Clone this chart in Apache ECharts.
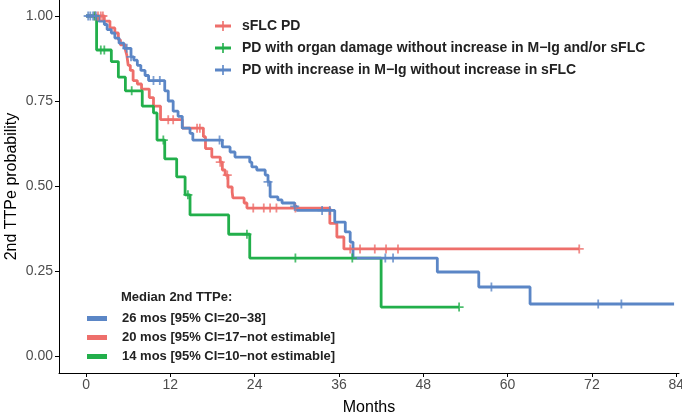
<!DOCTYPE html>
<html>
<head>
<meta charset="utf-8">
<script src="https://cdn.jsdelivr.net/npm/echarts@6/dist/echarts.min.js"></script>
<style>
  html, body { margin: 0; padding: 0; background: #fff; }
  #main { width: 682px; height: 415px; }
</style>
</head>
<body>
<div id="main"></div>
<script>
// tick labels
var monthTicks = [0, 12, 24, 36, 48, 60, 72, 84];
var probTicks = [0, 0.25, 0.5, 0.75, 1];

// legend / group names
var groupNames = [
  'sFLC PD',
  'PD with organ damage without increase in M\u2212Ig and/or sFLC',
  'PD with increase in M\u2212Ig without increase in sFLC'
];
var medianTitle = 'Median 2nd TTPe:';
var medianNames = [
  '26 mos [95% CI=20\u221238]',
  '20 mos [95% CI=17\u2212not estimable]',
  '14 mos [95% CI=10\u2212not estimable]'
];

// Kaplan-Meier steps [month, survival after event]
var sflcSteps = [
  [0, 1], [2.6, 0.985], [3.4, 0.965], [4.1, 0.95], [4.6, 0.93], [4.9, 0.915],
  [5.6, 0.9], [5.8, 0.885], [6.0, 0.855], [6.3, 0.84], [6.7, 0.81], [7.3, 0.8],
  [7.9, 0.785], [9.0, 0.76], [9.6, 0.735], [10.6, 0.695], [13.7, 0.67],
  [16.7, 0.645], [17.0, 0.61], [17.9, 0.585], [19.1, 0.57], [19.4, 0.547],
  [19.8, 0.532], [20.2, 0.497], [20.8, 0.482], [20.9, 0.465], [22.5, 0.45],
  [22.9, 0.435], [34.7, 0.39], [35.7, 0.35], [36.7, 0.315], [70.2, 0.315]
];
var sflcCensor = [1.3, 1.7, 2.1, 2.4, 11.7, 12.4, 15.8, 16.2, 19.1, 20.1, 23.8,
  25.3, 26.2, 27.1, 29.8, 37.6, 39.0, 41.1, 42.7, 44.4, 70.2];

var organSteps = [
  [0, 1], [1.5, 0.9], [3.6, 0.866], [4.6, 0.82], [5.6, 0.78], [8.0, 0.735],
  [9.6, 0.715], [10.1, 0.635], [11.2, 0.58], [12.9, 0.527], [14.1, 0.474],
  [14.8, 0.415], [20.3, 0.358], [23.3, 0.288], [42.0, 0.144], [53.1, 0.144]
];
var organCensor = [1.2, 2.1, 2.6, 6.5, 11.0, 14.5, 22.9, 29.8, 37.9, 53.1];

var migSteps = [
  [0, 1], [1.8, 0.985], [2.6, 0.975], [3.0, 0.96], [3.6, 0.95], [4.1, 0.935],
  [4.7, 0.92], [5.4, 0.905], [6.4, 0.88], [6.8, 0.87], [7.3, 0.855], [7.8, 0.84],
  [8.4, 0.825], [8.9, 0.81], [11.2, 0.78], [11.7, 0.75], [12.4, 0.72],
  [13.1, 0.705], [13.7, 0.67], [14.8, 0.655], [15.2, 0.635], [19.4, 0.615],
  [20.5, 0.6], [21.2, 0.585], [23.3, 0.57], [23.6, 0.556], [24.3, 0.547],
  [25.5, 0.532], [25.9, 0.512], [26.2, 0.468], [27.3, 0.459], [27.9, 0.45],
  [29.7, 0.44], [30.0, 0.428], [35.4, 0.394], [36.9, 0.365], [37.6, 0.335],
  [38.0, 0.288], [50.0, 0.247], [55.9, 0.203], [63.2, 0.153], [83.7, 0.153]
];
var migCensor = [0.3, 0.6, 1.0, 1.4, 5.8, 6.4, 9.6, 10.5, 19.0, 25.9, 29.7,
  33.6, 34.7, 42.6, 43.7, 57.7, 72.9, 76.2];

var colors = ['#EE6F6B', '#22AF4B', '#5B86C6'];

// survival value at time t (for censor marks)
function survAt(steps, t) {
  var s = steps[0][1];
  for (var i = 0; i < steps.length; i++) {
    if (steps[i][0] <= t) s = steps[i][1];
  }
  return s;
}
function censorPoints(steps, times) {
  return times.map(function (t) { return [t, survAt(steps, t)]; });
}

var plusSymbol = 'path://M0,3.2 L8,3.2 L8,4.8 L0,4.8 Z M3.2,0 L4.8,0 L4.8,8 L3.2,8 Z';
var keySymbol = 'path://M0,3.4 L16,3.4 L16,6.6 L0,6.6 Z M7.2,0 L8.8,0 L8.8,10 L7.2,10 Z';

var allSteps = [sflcSteps, organSteps, migSteps];
var allCensor = [sflcCensor, organCensor, migCensor];

var series = [];
for (var g = 0; g < 3; g++) {
  series.push({
    name: groupNames[g],
    type: 'line',
    step: 'end',
    data: allSteps[g],
    color: colors[g],
    showSymbol: false,
    symbol: 'none',
    lineStyle: { width: 2.8, color: colors[g] },
    z: 2 + g
  });
}
for (var g2 = 0; g2 < 3; g2++) {
  series.push({
    name: groupNames[g2],
    type: 'scatter',
    data: censorPoints(allSteps[g2], allCensor[g2]),
    symbol: plusSymbol,
    symbolSize: 9,
    itemStyle: { color: colors[g2] },
    z: 5 + g2
  });
}
// entries for the median legend
var medianColors = [colors[2], colors[0], colors[1]];
for (var m = 0; m < 3; m++) {
  series.push({
    name: medianNames[m],
    type: 'line',
    data: [],
    color: medianColors[m],
    itemStyle: { color: medianColors[m] },
    lineStyle: { color: medianColors[m] }
  });
}

var chart = echarts.init(document.getElementById('main'), null, { renderer: 'canvas' });
chart.setOption({
  animation: false,
  backgroundColor: '#fff',
  textStyle: { fontFamily: 'Liberation Sans, Arial, sans-serif' },
  title: {
    text: medianTitle,
    left: 121,
    top: 291,
    padding: 0,
    textStyle: { fontSize: 13, fontWeight: 'bold', color: '#222' }
  },
  legend: [{
    data: groupNames,
    orient: 'vertical',
    left: 215,
    top: 19,
    padding: 0,
    itemGap: 8,
    itemWidth: 16,
    itemHeight: 10,
    icon: keySymbol,
    selectedMode: false,
    formatter: function (n) { return '{t|' + n + '}'; },
    textStyle: {
      fontSize: 14, fontWeight: 'bold', color: '#222',
      rich: { t: { fontSize: 14, fontWeight: 'bold', color: '#222', padding: [0, 0, 0, 6] } }
    }
  }, {
    data: medianNames,
    orient: 'vertical',
    left: 87,
    top: 312,
    padding: 0,
    itemGap: 6,
    itemWidth: 20,
    itemHeight: 5,
    icon: 'rect',
    selectedMode: false,
    formatter: function (n) { return '{t|' + n + '}'; },
    textStyle: {
      fontSize: 13, fontWeight: 'bold', color: '#222',
      rich: { t: { fontSize: 13, fontWeight: 'bold', color: '#222', padding: [0, 0, 0, 10] } }
    }
  }],
  grid: { left: 59, right: 3, top: 0, bottom: 42, outerBoundsMode: 'none' },
  xAxis: {
    type: 'value',
    min: -3.85,
    max: 84.4,
    name: 'Months',
    nameLocation: 'middle',
    nameGap: 27,
    nameMoveOverlap: false,
    nameTextStyle: { fontSize: 16, color: '#000' },
    axisLine: { show: true, onZero: false, lineStyle: { color: '#000', width: 1 } },
    axisTick: { show: true, length: 4, customValues: monthTicks, lineStyle: { color: '#000' } },
    axisLabel: { customValues: monthTicks, fontSize: 14, color: '#4d4d4d', margin: 5 },
    splitLine: { show: false }
  },
  yAxis: {
    type: 'value',
    min: -0.05,
    max: 1.047,
    name: '2nd TTPe probability',
    nameLocation: 'middle',
    nameGap: 39,
    nameMoveOverlap: false,
    nameTextStyle: { fontSize: 16, color: '#000' },
    axisLine: { show: true, onZero: false, lineStyle: { color: '#000', width: 1 } },
    axisTick: { show: true, length: 4, customValues: probTicks, lineStyle: { color: '#000' } },
    axisLabel: {
      customValues: probTicks, fontSize: 14, color: '#4d4d4d', margin: 6,
      formatter: function (v) { return v.toFixed(2); }
    },
    splitLine: { show: false }
  },
  series: series
});
</script>
</body>
</html>
